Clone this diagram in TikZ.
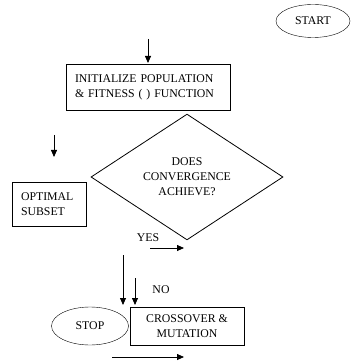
\documentclass[tikz,border=0pt]{standalone}
\usepackage{fontspec}
\setmainfont{Liberation Serif}
\usetikzlibrary{shapes.geometric,arrows.meta}
\begin{document}
\begin{tikzpicture}[x=1pt,y=-1pt,
  every node/.style={font=\fontsize{11.8}{15}\selectfont},
  box/.style={draw,thick,rectangle,inner sep=0pt},
  oval/.style={draw,ellipse,inner sep=0pt},
  arr/.style={-{Triangle[length=7pt,width=6pt]},thick}]
\useasboundingbox (0,0) rectangle (350,363);
% shapes
\node[oval,minimum width=74pt,minimum height=33pt] (start) at (313,21) {START};
\node[box,minimum width=164pt,minimum height=46pt,text width=146pt,align=left] (init) at (148,87) {INITIALIZE POPULATION\\ \& FITNESS ( ) FUNCTION};
\node[draw,thick,diamond,inner sep=0pt,minimum width=192pt,minimum height=94pt,align=center] (conv) at (187,177) {DOES\\CONVERGENCE\\ACHIEVE?};
\node[box,minimum width=74pt,minimum height=44pt,text width=56pt,align=left] (opt) at (49,204) {OPTIMAL\\SUBSET};
\node[oval,minimum width=77pt,minimum height=38pt] (stop) at (90,326) {STOP};
\node[box,minimum width=114pt,minimum height=38pt,align=center] (cross) at (187,326) {CROSSOVER \&\\MUTATION};
% labels
\node[inner sep=0pt] (yes) at (148,238) {YES};
\node[inner sep=0pt] (no) at (161,290) {NO};
% free arrows
\coordinate (a1s) at (148,39); \coordinate (a1e) at (148,63);
\coordinate (a2s) at (54,135); \coordinate (a2e) at (54,157);
\coordinate (a3s) at (150,248); \coordinate (a3e) at (184,248);
\coordinate (a4s) at (123,255); \coordinate (a4e) at (123,305);
\coordinate (a5s) at (135,278); \coordinate (a5e) at (135,305);
\coordinate (a6s) at (112,357); \coordinate (a6e) at (184,357);
\draw[arr] (a1s) -- (a1e);
\draw[arr] (a2s) -- (a2e);
\draw[arr] (a3s) -- (a3e);
\draw[arr] (a4s) -- (a4e);
\draw[arr] (a5s) -- (a5e);
\draw[arr] (a6s) -- (a6e);
\end{tikzpicture}
\end{document}
